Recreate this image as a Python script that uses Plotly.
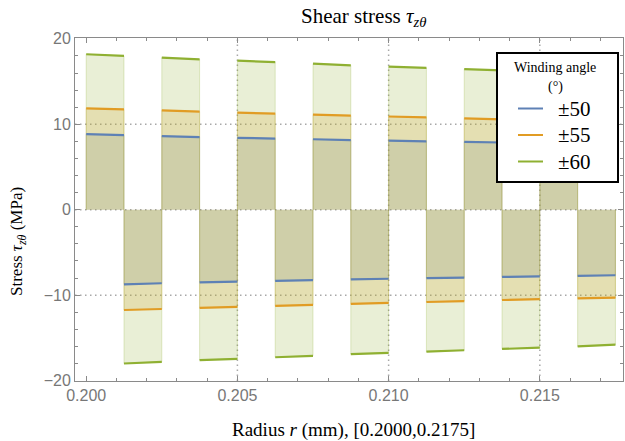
import plotly.graph_objects as go

# ---- data ----
r_edges = [0.20000, 0.20125, 0.20250, 0.20375, 0.20500, 0.20625, 0.20750, 0.20875,
           0.21000, 0.21125, 0.21250, 0.21375, 0.21500, 0.21625, 0.21750]
layer_sign = [1, -1, 1, -1, 1, -1, 1, -1, 1, -1, 1, -1, 1, -1]
# magnitude of shear stress (MPa) at each layer boundary
tau_50 = [8.85, 8.73, 8.61, 8.50, 8.42, 8.33, 8.25, 8.15, 8.08, 8.00, 7.94, 7.87, 7.80, 7.74, 7.67]
tau_55 = [11.86, 11.74, 11.62, 11.49, 11.37, 11.25, 11.14, 11.02, 10.91, 10.80, 10.69, 10.57, 10.47, 10.38, 10.30]
tau_60 = [18.20, 18.00, 17.80, 17.60, 17.45, 17.27, 17.10, 16.90, 16.75, 16.60, 16.45, 16.30, 16.15, 16.00, 15.80]
series_names = ["\u00b150", "\u00b155", "\u00b160"]
series_colors = ["#5E81B5", "#E19C24", "#8FB032"]
series_rgb = [(94, 129, 181), (225, 156, 36), (143, 176, 50)]
x_ticks = [0.200, 0.205, 0.210, 0.215]
y_ticks = [-20, -10, 0, 10, 20]
x_grid = [0.205, 0.210, 0.215]
y_grid = [-10, 0, 10]

fig = go.Figure()

all_series = [tau_50, tau_55, tau_60]

# fills (blue first, green on top)
for mags, (cr, cg, cb) in zip(all_series, series_rgb):
    fx, fy = [], []
    for i, s in enumerate(layer_sign):
        x0, x1 = r_edges[i], r_edges[i + 1]
        fx += [x0, x0, x1, x1, None]
        fy += [0, s * mags[i], s * mags[i + 1], 0, None]
    fig.add_trace(go.Scatter(
        x=fx, y=fy, mode="lines", fill="toself",
        fillcolor=f"rgba({cr},{cg},{cb},0.2)",
        line=dict(color=f"rgba({cr},{cg},{cb},0.25)", width=1),
        hoverinfo="skip", showlegend=False))

# top lines
for mags, col, name in zip(all_series, series_colors, series_names):
    lx, ly = [], []
    for i, s in enumerate(layer_sign):
        lx += [r_edges[i], r_edges[i + 1], None]
        ly += [s * mags[i], s * mags[i + 1], None]
    fig.add_trace(go.Scatter(x=lx, y=ly, mode="lines", name=name,
                             line=dict(color=col, width=2.2), showlegend=False))

# grid lines
grid_line = dict(color="#a8a8a8", width=1.5, dash="1.5px,3.5px")
for gx in x_grid:
    fig.add_shape(type="line", xref="x", yref="paper", x0=gx, x1=gx, y0=0, y1=1,
                  line=grid_line, layer="below")
for gy in y_grid:
    fig.add_shape(type="line", xref="paper", yref="y", x0=0, x1=1, y0=gy, y1=gy,
                  line=grid_line, layer="below")

# ---- manual legend ----
L = 75; T = 38; W = 548; H = 343
def px(x): return (x - L) / W
def py(y): return (T + H - y) / H

fig.add_shape(type="rect", xref="paper", yref="paper",
              x0=px(497), x1=px(618), y0=py(182), y1=py(53),
              line=dict(color="black", width=2), fillcolor="white", layer="above")
serif = "Liberation Serif, Times New Roman, serif"
fig.add_annotation(xref="paper", yref="paper", x=px(555), y=py(68), text="Winding angle",
                   showarrow=False, font=dict(family=serif, size=14, color="black"),
                   xanchor="center", yanchor="middle")
fig.add_annotation(xref="paper", yref="paper", x=px(555), y=py(87), text="(\u00b0)",
                   showarrow=False, font=dict(family=serif, size=14, color="black"),
                   xanchor="center", yanchor="middle")
for k, (name, col) in enumerate(zip(series_names, series_colors)):
    yy = [108.5, 135, 161.5][k]
    fig.add_shape(type="line", xref="paper", yref="paper", x0=px(518), x1=px(543),
                  y0=py(yy), y1=py(yy), line=dict(color=col, width=2), layer="above")
    fig.add_annotation(xref="paper", yref="paper", x=px(556), y=py(yy), text=name,
                       showarrow=False, font=dict(family=serif, size=21, color="black"),
                       xanchor="left", yanchor="middle")

# titles
fig.add_annotation(xref="paper", yref="paper", x=px(363), y=py(17),
                   text="Shear stress <i>\u03c4</i><sub><i>z\u03b8</i></sub>",
                   showarrow=False, font=dict(family=serif, size=21, color="black"),
                   xanchor="center", yanchor="middle")
fig.add_annotation(xref="paper", yref="paper", x=px(353), y=py(430),
                   text="Radius <i>r</i> (mm), [0.2000,0.2175]",
                   showarrow=False, font=dict(family=serif, size=19, color="black"),
                   xanchor="center", yanchor="middle")
fig.add_annotation(xref="paper", yref="paper", x=px(18), y=py(242),
                   text="Stress <i>\u03c4</i><sub><i>z\u03b8</i></sub> (MPa)", textangle=-90,
                   showarrow=False, font=dict(family=serif, size=17, color="black"),
                   xanchor="center", yanchor="middle")

axis_common = dict(showline=True, linecolor="#8a8a8a", linewidth=1, mirror="allticks",
                   ticks="inside", ticklen=5, tickcolor="#8a8a8a", tickwidth=1,
                   showgrid=False, zeroline=False,
                   tickfont=dict(family="Liberation Sans, Arial, sans-serif", size=16, color="#777777"))

fig.update_xaxes(range=[0.19963, 0.21775], tickmode="array", tickvals=x_ticks,
                 ticktext=[f"{v:.3f}" for v in x_ticks],
                 minor=dict(dtick=0.001, tick0=0.2, ticks="inside", ticklen=3,
                            tickcolor="#8a8a8a", showgrid=False),
                 **axis_common)
fig.update_yaxes(range=[-20.05, 20.1], tickmode="array", tickvals=y_ticks,
                 minor=dict(dtick=2, tick0=0, ticks="inside", ticklen=3,
                            tickcolor="#8a8a8a", showgrid=False),
                 **axis_common)

fig.update_layout(width=625, height=441, margin=dict(l=L, r=625 - L - W, t=T, b=441 - T - H),
                  plot_bgcolor="white", paper_bgcolor="white", showlegend=False)

fig.write_html("out.html")
